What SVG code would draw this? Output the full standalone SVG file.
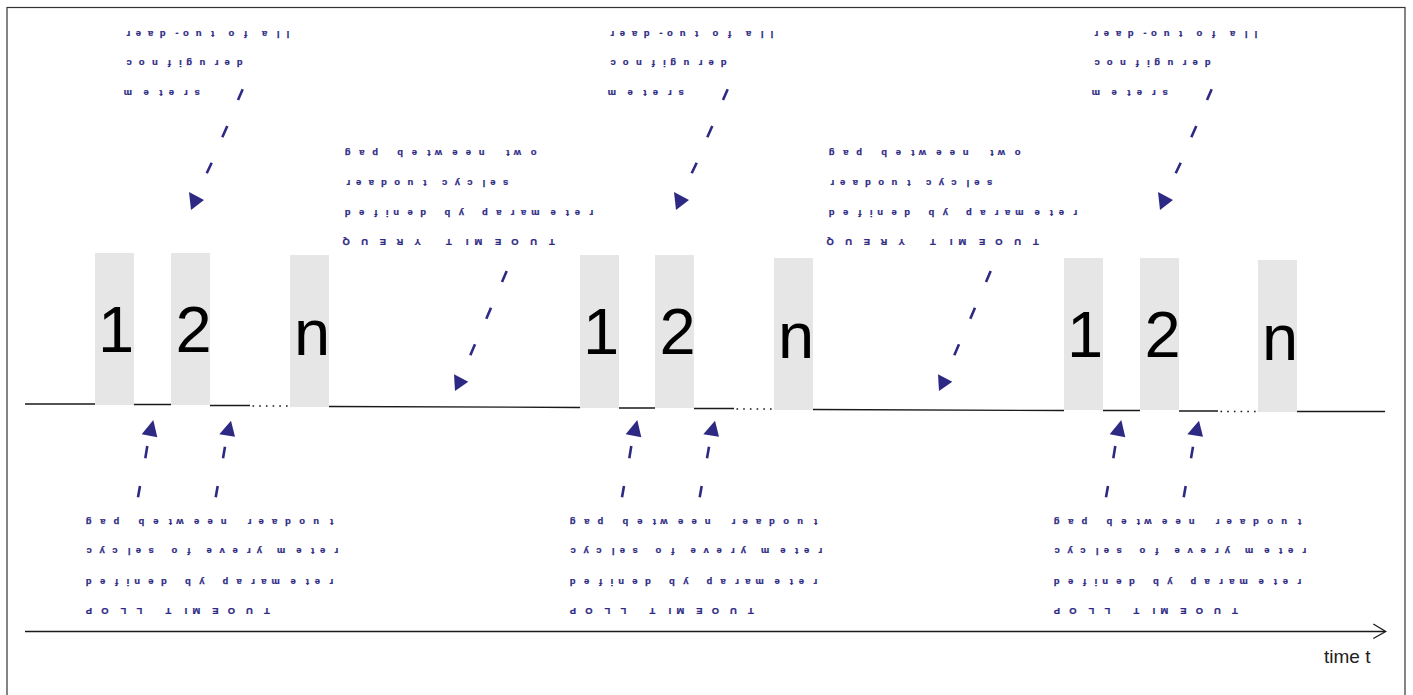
<svg xmlns="http://www.w3.org/2000/svg" width="1413" height="695" viewBox="0 0 1413 695">
<style>
.frame{fill:#fff;stroke:#333;stroke-width:1.2}
.box{fill:#e6e6e6}
.num{font-family:"Liberation Sans",Arial,sans-serif;font-size:65px;fill:#000}
.lbl{font-family:"Liberation Sans",Arial,sans-serif;font-weight:bold;font-size:9.3px;fill:#2e2a84;stroke:#2e2a84;stroke-width:0.25}
.sig{fill:none;stroke:#1a1a1a;stroke-width:1.3}
.dots{fill:none;stroke:#1a1a1a;stroke-width:1.4;stroke-dasharray:1.6 5.1}
.dash{fill:none;stroke:#2e2a84;stroke-width:2.6}
.head{fill:#2e2a84}
.axis{fill:none;stroke:#1a1a1a;stroke-width:1.3}
.time{font-family:"Liberation Sans",Arial,sans-serif;font-size:19px;fill:#222}
</style>
<defs>
<g id="topText">
<text class="lbl" rotate="180" x="130.2" y="31" textLength="161.6" lengthAdjust="spacing">read-out of all</text>
<text class="lbl" rotate="180" x="131.7" y="59.5" textLength="116.5" lengthAdjust="spacing">configured</text>
<text class="lbl" rotate="180" x="132" y="89.5" textLength="73" lengthAdjust="spacing">meters</text>
</g>
<g id="midText">
<text class="lbl" rotate="180" x="350.5" y="150" textLength="191.7" lengthAdjust="spacing">gap between two</text>
<text class="lbl" rotate="180" x="350.2" y="180" textLength="163.1" lengthAdjust="spacing">readout cycles</text>
<text class="lbl" rotate="180" x="350.5" y="209.5" textLength="246.3" lengthAdjust="spacing">defined by parameter</text>
<text class="lbl" rotate="180" x="349.7" y="239" textLength="210.8" lengthAdjust="spacing">QUERY TIMEOUT</text>
</g>
<g id="botText">
<text class="lbl" rotate="180" x="91.5" y="519" textLength="244.8" lengthAdjust="spacing">gap between readout</text>
<text class="lbl" rotate="180" x="91.7" y="548" textLength="250.1" lengthAdjust="spacing">cycles of every meter</text>
<text class="lbl" rotate="180" x="91.5" y="578.5" textLength="245.3" lengthAdjust="spacing">defined by parameter</text>
<text class="lbl" rotate="180" x="92" y="608" textLength="183.5" lengthAdjust="spacing">POLL TIMEOUT</text>
</g>
<g id="topArrow">
<path class="dash" d="M242.7,89.3 L238,100 M227.3,126 L222.3,137.3 M211.7,162.7 L206.7,173.3"/>
<polygon class="head" points="189,192 191,210 204,200"/>
</g>
<g id="midArrow">
<path class="dash" d="M506.7,271 L502,282 M491,307.7 L486.3,318.7 M475,344.3 L470.3,355.3"/>
<polygon class="head" points="454,374.3 455,391 468.3,381.7"/>
</g>
<g id="botArrows">
<path class="dash" d="M147.3,446 L145.3,458.3 M140,486 L138,497.3"/>
<polygon class="head" points="153.3,420 141.7,434.3 157.3,437.3"/>
<path class="dash" d="M225,446.7 L223,458.3 M217.7,486 L215.7,497.3"/>
<polygon class="head" points="231,420.7 219.3,434.3 235,436.7"/>
</g>
</defs>
<rect class="frame" x="7" y="7.5" width="1398" height="700"/>

<g id="signal">
<path class="sig" d="M25,404 H95 M134,404.5 H171 M210,405.5 H250 M329,406.5 L580,407.5 M619,408 H655 M694,408.5 H734 M813,409.5 L1064,410.5 M1103,410.5 H1140 M1179,411 H1218 M1297,411.5 H1385"/>
<path class="dots" d="M252.5,406 H290 M736.5,409 H774 M1220.5,411.5 H1258"/>
</g>

<g id="g1-box1"><rect class="box" x="95" y="253" width="39" height="152"/><text class="num" x="98" y="352">1</text></g>
<g id="g1-box2"><rect class="box" x="171" y="253" width="39" height="152"/><text class="num" x="175.4" y="352">2</text></g>
<g id="g1-boxn"><rect class="box" x="290" y="255" width="39" height="152"/><text class="num" x="294" y="355">n</text></g>

<g id="g2-box1"><rect class="box" x="580" y="255" width="39" height="153"/><text class="num" x="583" y="354">1</text></g>
<g id="g2-box2"><rect class="box" x="655" y="255" width="39" height="153"/><text class="num" x="659.4" y="354">2</text></g>
<g id="g2-boxn"><rect class="box" x="774" y="258" width="39" height="152"/><text class="num" x="778" y="358">n</text></g>

<g id="g3-box1"><rect class="box" x="1064" y="258" width="39" height="152"/><text class="num" x="1067" y="357">1</text></g>
<g id="g3-box2"><rect class="box" x="1140" y="258" width="39" height="152"/><text class="num" x="1144.4" y="357">2</text></g>
<g id="g3-boxn"><rect class="box" x="1258" y="260" width="39" height="152"/><text class="num" x="1262" y="360">n</text></g>

<g id="label-read-out-1"><use href="#topText"/></g>
<g id="label-read-out-2"><use href="#topText" transform="translate(484,0)"/></g>
<g id="label-read-out-3"><use href="#topText" transform="translate(968,0)"/></g>
<g id="label-query-1"><use href="#midText"/></g>
<g id="label-query-2"><use href="#midText" transform="translate(484,0)"/></g>
<g id="label-poll-1"><use href="#botText"/></g>
<g id="label-poll-2"><use href="#botText" transform="translate(484,0)"/></g>
<g id="label-poll-3"><use href="#botText" transform="translate(968,0)"/></g>

<g id="connectors">
<use href="#topArrow"/>
<use href="#topArrow" transform="translate(485,0)"/>
<use href="#topArrow" transform="translate(969,0)"/>
<use href="#midArrow"/>
<use href="#midArrow" transform="translate(484,0)"/>
<use href="#botArrows"/>
<use href="#botArrows" transform="translate(484,0)"/>
<use href="#botArrows" transform="translate(968,0)"/>
</g>

<g id="time-axis">
<path class="axis" d="M25,631.5 H1385"/>
<path class="axis" d="M1373.3,624 L1385.7,631.5 L1373.3,638.5" stroke-width="1.6"/>
<text class="time" x="1324" y="663">time t</text>
</g>
</svg>
